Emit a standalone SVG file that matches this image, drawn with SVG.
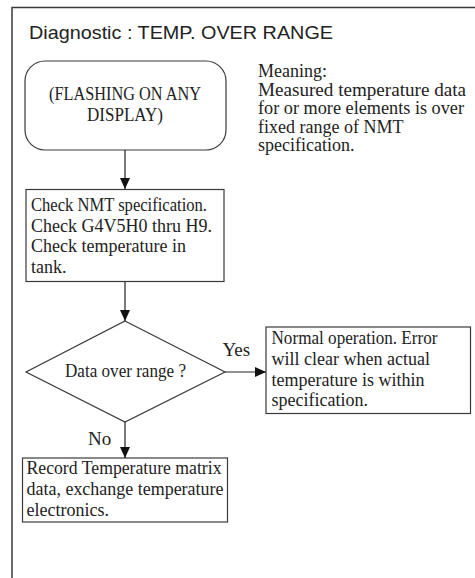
<svg xmlns="http://www.w3.org/2000/svg" width="475" height="578" viewBox="0 0 475 578">
<style>
.frame{fill:none;stroke:#3a3a3a;stroke-width:1.5}
.box{fill:#fff;stroke:#3a3a3a;stroke-width:1.2}
.conn{fill:none;stroke:#222;stroke-width:1.2}
.t{font-family:"Liberation Serif",serif;font-size:18px;fill:#222}
.title{font-family:"Liberation Sans",sans-serif;font-size:19px;fill:#222}
.lbl{font-family:"Liberation Serif",serif;font-size:19px;fill:#222}
</style>
<defs>
<marker id="ah" markerUnits="userSpaceOnUse" markerWidth="12" markerHeight="12" viewBox="0 0 12 12" refX="11" refY="6" orient="auto">
<path d="M0,1 L11,6 L0,11 Z" fill="#111"/>
</marker>
</defs>
<path class="frame" d="M12,578 V7.5 H475"/>
<text class="title" x="29" y="39" textLength="304" lengthAdjust="spacingAndGlyphs">Diagnostic : TEMP. OVER RANGE</text>
<g id="meaning">
<text class="t" x="258" y="77">Meaning:</text>
<text class="t" x="258" y="95.5" textLength="208" lengthAdjust="spacingAndGlyphs">Measured temperature data</text>
<text class="t" x="258" y="114" textLength="206" lengthAdjust="spacingAndGlyphs">for or more elements is over</text>
<text class="t" x="258" y="132.5">fixed range of NMT</text>
<text class="t" x="258" y="151">specification.</text>
</g>
<g id="start">
<rect class="box" x="25" y="61" width="201" height="89" rx="20" ry="20"/>
<text class="t" x="49" y="100" textLength="152" lengthAdjust="spacingAndGlyphs">(FLASHING ON ANY</text>
<text class="t" x="87" y="121" textLength="76" lengthAdjust="spacingAndGlyphs">DISPLAY)</text>
</g>
<g id="check">
<rect class="box" x="26" y="189.5" width="198" height="92"/>
<text class="t" x="31" y="211" textLength="176" lengthAdjust="spacingAndGlyphs">Check NMT specification.</text>
<text class="t" x="31" y="231.5">Check G4V5H0 thru H9.</text>
<text class="t" x="31" y="252">Check temperature in</text>
<text class="t" x="31" y="272.5">tank.</text>
</g>
<g id="decision">
<polygon class="box" points="125,321 225,372 125,422 26,372"/>
<text class="t" x="65" y="377" textLength="121" lengthAdjust="spacingAndGlyphs">Data over range ?</text>
</g>
<g id="normal">
<rect class="box" x="266" y="327" width="204.5" height="86.5"/>
<text class="t" x="271.5" y="344" textLength="166" lengthAdjust="spacingAndGlyphs">Normal operation. Error</text>
<text class="t" x="271.5" y="365">will clear when actual</text>
<text class="t" x="271.5" y="385.5">temperature is within</text>
<text class="t" x="271.5" y="406">specification.</text>
</g>
<g id="record">
<rect class="box" x="22.5" y="458" width="205" height="64"/>
<text class="t" x="26.5" y="474" textLength="195" lengthAdjust="spacingAndGlyphs">Record Temperature matrix</text>
<text class="t" x="26.5" y="495" textLength="197" lengthAdjust="spacingAndGlyphs">data, exchange temperature</text>
<text class="t" x="26.5" y="515.5">electronics.</text>
</g>
<g id="connectors">
<line class="conn" x1="125" y1="150" x2="125" y2="189" marker-end="url(#ah)"/>
<line class="conn" x1="125" y1="282" x2="125" y2="321" marker-end="url(#ah)"/>
<line class="conn" x1="225" y1="372" x2="266" y2="372" marker-end="url(#ah)"/>
<line class="conn" x1="125" y1="422" x2="125" y2="458" marker-end="url(#ah)"/>
<text class="lbl" x="222.5" y="356">Yes</text>
<text class="lbl" x="88" y="445">No</text>
</g>
</svg>
